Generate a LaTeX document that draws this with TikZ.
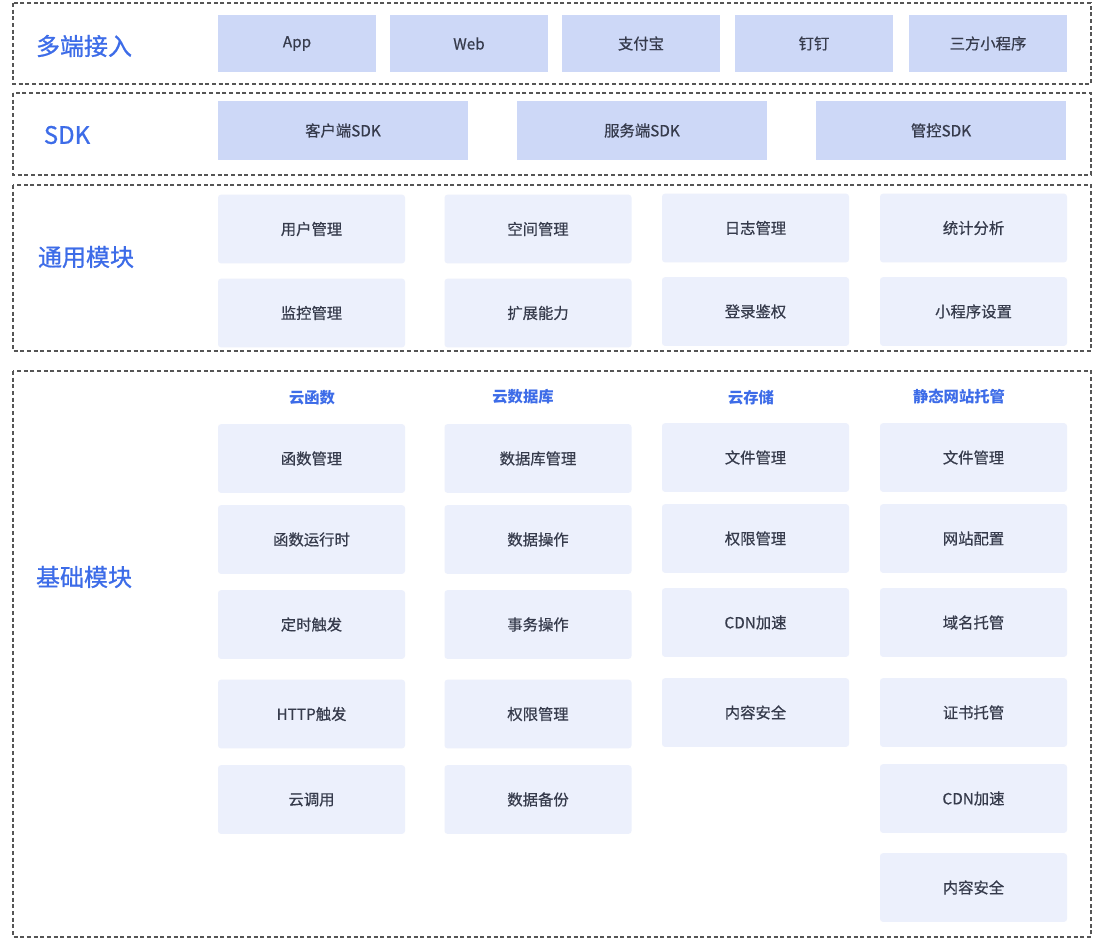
\documentclass[tikz,border=0pt]{standalone}
\usepackage{fontspec}
\setmainfont{Noto Sans CJK SC}
\newfontfamily\medfont[FakeBold=0.6]{Noto Sans CJK SC}
\newfontfamily\hdrfont[FakeBold=0.8]{Noto Sans CJK SC}
\definecolor{hdr}{HTML}{3D6CE8}
\definecolor{txt}{HTML}{363B4C}
\definecolor{topfill}{HTML}{CDD8F7}
\definecolor{subfill}{HTML}{ECF0FC}
\definecolor{dashc}{HTML}{555555}
\tikzset{
  dashbox/.style={draw=dashc, line width=0.8pt, dash pattern=on 3pt off 2pt},
  hdrtext/.style={text=hdr, font=\hdrfont\fontsize{18}{20}\selectfont, inner sep=0pt},
  subhdr/.style={text=hdr, font=\fontsize{11.5}{13}\selectfont\bfseries, inner sep=0pt},
  topbox/.style={fill=topfill, text=txt, inner sep=0pt, font=\medfont\fontsize{11.5}{13}\selectfont,
     minimum width=118.5pt, minimum height=42.75pt},
  sdkbox/.style={fill=topfill, text=txt, inner sep=0pt, font=\medfont\fontsize{11.5}{13}\selectfont,
     minimum width=187.5pt, minimum height=44.25pt},
  modbox/.style={fill=subfill, text=txt, inner sep=0pt, rounded corners=2.2pt, font=\medfont\fontsize{11.5}{13}\selectfont,
     minimum width=140.25pt, minimum height=51.5pt},
}
\begin{document}
\begin{tikzpicture}[x=0.75pt, y=-0.75pt]
\useasboundingbox (0,0) rectangle (1098,943);
\fill[white] (0,0) rectangle (1098,943);
% containers
\draw[dashbox] (13,3) rectangle (1091,84);
\draw[dashbox] (13,93) rectangle (1091,175);
\draw[dashbox] (13,185) rectangle (1091,351);
\draw[dashbox] (13,371) rectangle (1091,937);
% left headers
\node[hdrtext] (h1) at (84,46) {多端接入};
\node[hdrtext] (h2) at (67,135) {SDK};
\node[hdrtext] (h3) at (86,257) {通用模块};
\node[hdrtext] (h4) at (84,577) {基础模块};
% row 1
\node[topbox] (app) at (297,43.5) {App};
\node[topbox] (web) at (469,43.5) {Web};
\node[topbox] (zfb) at (641,43.5) {支付宝};
\node[topbox] (dd) at (814,43.5) {钉钉};
\node[topbox] (sf) at (988,43.5) {三方小程序};
% row 2
\node[sdkbox] (csdk) at (343,130.5) {客户端SDK};
\node[sdkbox] (ssdk) at (642,130.5) {服务端SDK};
\node[sdkbox] (msdk) at (941,130.5) {管控SDK};
% row 3
\node[modbox] (u1) at (311.5,229) {用户管理};
\node[modbox] (u2) at (538,229) {空间管理};
\node[modbox] (u3) at (755.5,228) {日志管理};
\node[modbox] (u4) at (973.5,228) {统计分析};
\node[modbox] (u5) at (311.5,313) {监控管理};
\node[modbox] (u6) at (538,313) {扩展能力};
\node[modbox] (u7) at (755.5,311.5) {登录鉴权};
\node[modbox] (u8) at (973.5,311.5) {小程序设置};
% row 4 subheaders
\node[subhdr] (s1) at (312,398) {云函数};
\node[subhdr] (s2) at (523,397) {云数据库};
\node[subhdr] (s3) at (751,398) {云存储};
\node[subhdr] (s4) at (959,397) {静态网站托管};
% col 1
\node[modbox] (a1) at (311.5,458.5) {函数管理};
\node[modbox] (a2) at (311.5,539.5) {函数运行时};
\node[modbox] (a3) at (311.5,624.5) {定时触发};
\node[modbox] (a4) at (311.5,714) {HTTP触发};
\node[modbox] (a5) at (311.5,799.5) {云调用};
% col 2
\node[modbox] (b1) at (538,458.5) {数据库管理};
\node[modbox] (b2) at (538,539.5) {数据操作};
\node[modbox] (b3) at (538,624.5) {事务操作};
\node[modbox] (b4) at (538,714) {权限管理};
\node[modbox] (b5) at (538,799.5) {数据备份};
% col 3
\node[modbox] (c1) at (755.5,457.5) {文件管理};
\node[modbox] (c2) at (755.5,538.5) {权限管理};
\node[modbox] (c3) at (755.5,622.5) {CDN加速};
\node[modbox] (c4) at (755.5,712.5) {内容安全};
% col 4
\node[modbox] (d1) at (973.5,457.5) {文件管理};
\node[modbox] (d2) at (973.5,538.5) {网站配置};
\node[modbox] (d3) at (973.5,622.5) {域名托管};
\node[modbox] (d4) at (973.5,712.5) {证书托管};
\node[modbox] (d5) at (973.5,798.5) {CDN加速};
\node[modbox] (d6) at (973.5,887.5) {内容安全};
\end{tikzpicture}
\end{document}
